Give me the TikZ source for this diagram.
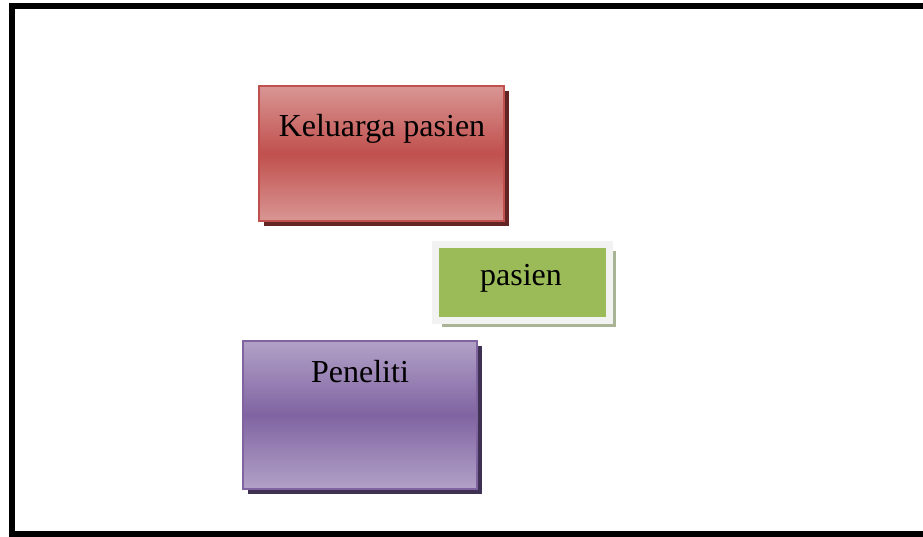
\documentclass[tikz,border=0pt]{standalone}
\usepackage{fontspec}
\setmainfont{Liberation Serif}
\usetikzlibrary{shadows}
\definecolor{redA}{HTML}{D99694}
\definecolor{redB}{HTML}{C0504D}
\definecolor{redS}{HTML}{632523}
\definecolor{purA}{HTML}{B2A1C7}
\definecolor{purB}{HTML}{8064A2}
\definecolor{purS}{HTML}{3F3151}
\definecolor{grnA}{HTML}{9BBB59}
\definecolor{grnS}{HTML}{A9B496}
\definecolor{grnE}{HTML}{F2F2F2}
\tikzset{
  lbl/.style={anchor=base, font=\fontsize{32}{38}\selectfont, text=black, inner sep=0pt},
  redbox/.style={rectangle, draw=redB, line width=2pt, top color=redA, bottom color=redA, middle color=redB,
     minimum width=245pt, minimum height=135pt, inner sep=0pt,
     general shadow={shadow xshift=5pt, shadow yshift=-5pt, fill=redS}},
  purbox/.style={rectangle, draw=purB, line width=2pt, top color=purA, bottom color=purA, middle color=purB,
     minimum width=234pt, minimum height=148pt, inner sep=0pt,
     general shadow={shadow xshift=5pt, shadow yshift=-5pt, fill=purS}},
  grnbox/.style={rectangle, draw=grnE, line width=7pt, fill=grnA,
     minimum width=174pt, minimum height=76pt, inner sep=0pt,
     general shadow={shadow xshift=6.5pt, shadow yshift=-6.5pt, fill=grnS}},
  frame/.style={draw=black, line width=6pt}
}
\begin{document}
\begin{tikzpicture}[x=1pt,y=-1pt]
\useasboundingbox (0,0) rectangle (923,536);
\fill[white] (0,0) rectangle (923,536);
\coordinate (f1) at (930,6);
\coordinate (f2) at (12,6);
\coordinate (f3) at (12,533.5);
\coordinate (f4) at (930,533.5);
\draw[frame] (f1) -- (f2) -- (f3) -- (f4);
\node[redbox] (kel) at (381.5,153.5) {};
\node[lbl] (kelt) at (382,136) {Keluarga pasien};
\node[grnbox] (pas) at (522.5,282.5) {};
\node[lbl] (past) at (521,285) {pasien};
\node[purbox] (pen) at (360,415) {};
\node[lbl] (pent) at (360,382) {Peneliti};
\end{tikzpicture}
\end{document}
